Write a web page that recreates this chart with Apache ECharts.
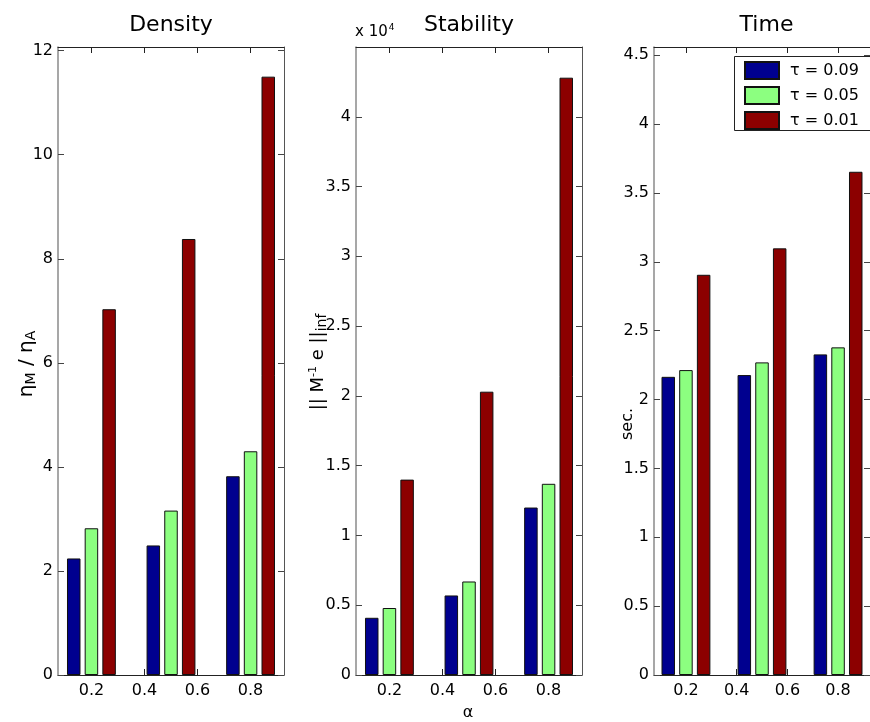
<!DOCTYPE html>
<html>
<head>
<meta charset="utf-8">
<script src="https://cdn.jsdelivr.net/npm/echarts@6/dist/echarts.min.js"></script>
<style>
  html, body { margin: 0; padding: 0; background: #fff; }
  #chart { width: 870px; height: 722px; }
</style>
</head>
<body>
<div id="chart"></div>
<script>
// Group positions on the alpha axis and the three tau settings
const alpha = [0.2, 0.5, 0.8];
const tauLabels = ['τ = 0.09', 'τ = 0.05', 'τ = 0.01'];
const tauColors = ['#00008F', '#8CFF80', '#8C0000'];

// Density ratio eta_M / eta_A, one row per tau
const densityT009 = [2.24, 2.49, 3.82];
const densityT005 = [2.82, 3.16, 4.30];
const densityT001 = [7.03, 8.38, 11.50];

// Stability || M^-1 e ||_inf, one row per tau
const stabilityT009 = [4100, 5700, 12000];
const stabilityT005 = [4800, 6700, 13700];
const stabilityT001 = [14000, 20300, 42800];

// Run time in seconds, one row per tau
const timeT009 = [2.165, 2.178, 2.328];
const timeT005 = [2.214, 2.270, 2.379];
const timeT001 = [2.906, 3.098, 3.654];

// Tick labels
const xTicks = [0.2, 0.4, 0.6, 0.8];
const densityTicks = [0, 2, 4, 6, 8, 10, 12];
const stabilityTicks = [0, 5000, 10000, 15000, 20000, 25000, 30000, 35000, 40000];
const timeTicks = [0, 0.5, 1, 1.5, 2, 2.5, 3, 3.5, 4, 4.5];

const FONT = 'DejaVu Sans';

const panels = [
  { title: 'Density', left: 58, width: 226, yMax: 12.07, yTicks: densityTicks,
    fmt: v => String(v), rows: [densityT009, densityT005, densityT001] },
  { title: 'Stability', left: 356, width: 226, yMax: 45000, yTicks: stabilityTicks,
    fmt: v => String(v / 10000), rows: [stabilityT009, stabilityT005, stabilityT001] },
  { title: 'Time', left: 654, width: 225, yMax: 4.56, yTicks: timeTicks,
    fmt: v => String(v), rows: [timeT009, timeT005, timeT001] }
];

const grids = [], xAxes = [], yAxes = [], series = [], graphics = [];
const tickLen = 6;

panels.forEach((p, i) => {
  grids.push({ left: p.left, top: 47, width: p.width, height: 628, show: false });

  // bottom and top alpha axes
  xAxes.push({
    type: 'value', gridIndex: i, min: 0.074, max: 0.926, position: 'bottom',
    axisLine: { show: true, onZero: false, lineStyle: { color: '#222', width: 1 } },
    axisTick: { show: true, inside: true, length: tickLen, customValues: xTicks, lineStyle: { color: '#222' } },
    axisLabel: { show: true, customValues: xTicks, formatter: v => v.toFixed(1),
      fontFamily: FONT, fontSize: 16, color: '#000', margin: 8 },
    splitLine: { show: false }
  });
  xAxes.push({
    type: 'value', gridIndex: i, min: 0.074, max: 0.926, position: 'top',
    axisLine: { show: true, onZero: false, lineStyle: { color: '#222', width: 1 } },
    axisTick: { show: true, inside: true, length: tickLen, customValues: xTicks, lineStyle: { color: '#222' } },
    axisLabel: { show: false },
    splitLine: { show: false }
  });

  // left and right value axes
  yAxes.push({
    type: 'value', gridIndex: i, min: 0, max: p.yMax, position: 'left',
    axisLine: { show: true, onZero: false, lineStyle: { color: '#8a8a8a', width: 1.5 } },
    axisTick: { show: true, inside: true, length: tickLen, customValues: p.yTicks, lineStyle: { color: '#444' } },
    axisLabel: { show: true, customValues: p.yTicks, formatter: p.fmt,
      fontFamily: FONT, fontSize: 16, color: '#000', margin: 5 },
    splitLine: { show: false }
  });
  yAxes.push({
    type: 'value', gridIndex: i, min: 0, max: p.yMax, position: 'right',
    axisLine: { show: true, onZero: false, lineStyle: { color: '#555', width: 1 } },
    axisTick: { show: true, inside: true, length: tickLen, customValues: p.yTicks, lineStyle: { color: '#444' } },
    axisLabel: { show: false },
    splitLine: { show: false }
  });

  p.rows.forEach((row, s) => {
    series.push({
      type: 'bar', name: tauLabels[s],
      xAxisIndex: 2 * i, yAxisIndex: 2 * i,
      data: alpha.map((a, k) => [a, row[k]]),
      barWidth: 13.5, barGap: '31%',
      itemStyle: { color: tauColors[s], borderColor: '#111', borderWidth: 1 }
    });
  });

  graphics.push({
    type: 'text', x: p.left + p.width / 2, y: 25,
    style: { text: p.title, fontFamily: FONT, fontSize: 22, fill: '#000',
      align: 'center', verticalAlign: 'middle' }
  });
});

// legend frame, running past the right edge of the time panel
graphics.push({
  type: 'rect', z: 3,
  shape: { x: 734.5, y: 56.5, width: 170, height: 74 },
  style: { fill: '#fff', stroke: '#222', lineWidth: 1 }
});

// axis names
graphics.push({
  type: 'text', x: 27, y: 364, rotation: Math.PI / 2,
  style: {
    text: '{e|η}{s|M}{e| / η}{s|A}', align: 'center', verticalAlign: 'middle',
    rich: {
      e: { fontFamily: FONT, fontSize: 20, fill: '#000' },
      s: { fontFamily: FONT, fontSize: 14, fill: '#000', padding: [9, 0, 0, 0] }
    }
  }
});
graphics.push({
  type: 'text', x: 318, y: 362, rotation: Math.PI / 2,
  style: {
    text: '{e||| M}{u|-1}{e| e ||}{s|inf}', align: 'center', verticalAlign: 'middle',
    rich: {
      e: { fontFamily: FONT, fontSize: 18, fill: '#000' },
      u: { fontFamily: FONT, fontSize: 11, fill: '#000', padding: [0, 0, 9, 0] },
      s: { fontFamily: FONT, fontSize: 14, fill: '#000', padding: [9, 0, 0, 0] }
    }
  }
});
graphics.push({
  type: 'text', x: 628, y: 424, rotation: Math.PI / 2,
  style: { text: 'sec.', fontFamily: FONT, fontSize: 16, fill: '#000',
    align: 'center', verticalAlign: 'middle' }
});
graphics.push({
  type: 'text', x: 468, y: 713,
  style: { text: 'α', fontFamily: FONT, fontSize: 16, fill: '#000',
    align: 'center', verticalAlign: 'middle' }
});
// exponent note for the stability axis
graphics.push({
  type: 'text', x: 355, y: 32,
  style: {
    text: '{a|x 10}{b|4}', align: 'left', verticalAlign: 'middle',
    rich: {
      a: { fontFamily: FONT, fontSize: 15, fill: '#000' },
      b: { fontFamily: FONT, fontSize: 9, fill: '#000', padding: [0, 0, 9, 1] }
    }
  }
});

const chart = echarts.init(document.getElementById('chart'), null, { renderer: 'canvas' });
chart.setOption({
  animation: false,
  backgroundColor: '#fff',
  grid: grids,
  xAxis: xAxes,
  yAxis: yAxes,
  series: series,
  legend: {
    data: tauLabels, orient: 'vertical', left: 734, top: 56, z: 10,
    itemWidth: 34, itemHeight: 17, itemGap: 6, icon: 'rect',
    padding: [5, 10, 4, 10], borderWidth: 0,
    selectedMode: false,
    textStyle: { fontFamily: FONT, fontSize: 16, color: '#000', padding: [0, 0, 0, 6] }
  },
  graphic: graphics
});
</script>
</body>
</html>
